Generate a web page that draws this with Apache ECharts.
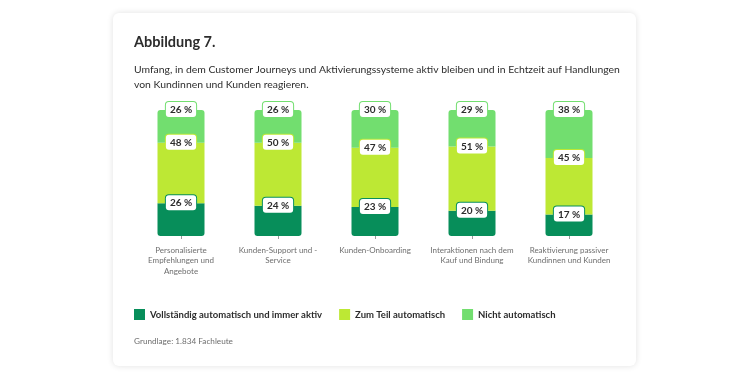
<!DOCTYPE html>
<html><head><meta charset="utf-8">
<script src="https://cdn.jsdelivr.net/npm/echarts@6/dist/echarts.min.js"></script>
<style>
html,body{margin:0;padding:0;background:#fff;width:750px;height:379px;overflow:hidden;}
#card{position:absolute;left:113px;top:13px;width:523px;height:353px;background:#fff;border-radius:6px;box-shadow:0 0 6px rgba(0,0,0,0.12);}
#chart{position:absolute;left:0;top:0;width:750px;height:379px;}
</style></head>
<body><div id="card"></div><div id="chart"></div>
<script>
const categories = ["Personalisierte\nEmpfehlungen und\nAngebote", "Kunden-Support und -\nService", "Kunden-Onboarding", "Interaktionen nach dem\nKauf und Bindung", "Reaktivierung passiver\nKundinnen und Kunden"];
const seriesNames = ["Vollständig automatisch und immer aktiv", "Zum Teil automatisch", "Nicht automatisch"];
const full = [26, 24, 23, 20, 17];
const partial = [48, 50, 47, 51, 45];
const none = [26, 26, 30, 29, 38];
const colors = ["#078e5a", "#bde834", "#72de6f"];
const FONT = "Lato, sans-serif";

function mkSeries(name, data, color, radius) {
  return {
    name: name, type: 'bar', stack: 'a', data: data, barWidth: 47,
    itemStyle: { color: color, borderRadius: radius },
    label: {
      show: true, position: 'top', distance: -7, formatter: '{c} %',
      fontFamily: FONT, fontSize: 10, fontWeight: 'bold', color: '#2c2c2c',
      backgroundColor: '#fff', borderColor: color, borderWidth: 1, borderRadius: 3,
      padding: [3, 4, 2, 4]
    }
  };
}

const chart = echarts.init(document.getElementById('chart'));
chart.setOption({
  animation: false,
  title: [
    { text: 'Abbildung 7.', left: 134, top: 35, padding: 0, textStyle: { fontFamily: FONT, fontSize: 14.5, fontWeight: 'bold', color: '#2c2c2c' } },
    { text: 'Umfang, in dem Customer Journeys und Aktivierungssysteme aktiv bleiben und in Echtzeit auf Handlungen\nvon Kundinnen und Kunden reagieren.', left: 134, top: 62, padding: 0,
      textStyle: { fontFamily: FONT, fontSize: 10.4, fontWeight: 'normal', color: '#2c2c2c', lineHeight: 15 } },
    { text: 'Grundlage: 1.834 Fachleute', left: 134, top: 337, padding: 0, textStyle: { fontFamily: FONT, fontSize: 8.2, fontWeight: 'normal', color: '#6e6e6e' } }
  ],
  legend: {
    left: 134, top: 309, padding: 0, itemWidth: 11, itemHeight: 11, itemGap: 17, icon: 'rect',
    textStyle: { fontFamily: FONT, fontSize: 9.5, fontWeight: 'bold', color: '#2c2c2c' },
    data: seriesNames
  },
  grid: { left: 132.5, width: 485, top: 110, height: 126 },
  xAxis: {
    type: 'category', data: categories,
    axisLine: { show: false },
    axisTick: { show: true, alignWithLabel: true, length: 3, lineStyle: { color: '#9a9a9a' } },
    axisLabel: { fontFamily: FONT, fontSize: 8, color: '#6e6e6e', lineHeight: 10.5, margin: 9, interval: 0 }
  },
  yAxis: { type: 'value', min: 0, max: 100, show: false },
  series: [
    mkSeries(seriesNames[0], full, colors[0], [0, 0, 3, 3]),
    mkSeries(seriesNames[1], partial, colors[1], 0),
    mkSeries(seriesNames[2], none, colors[2], [3, 3, 0, 0])
  ]
});
</script></body></html>
